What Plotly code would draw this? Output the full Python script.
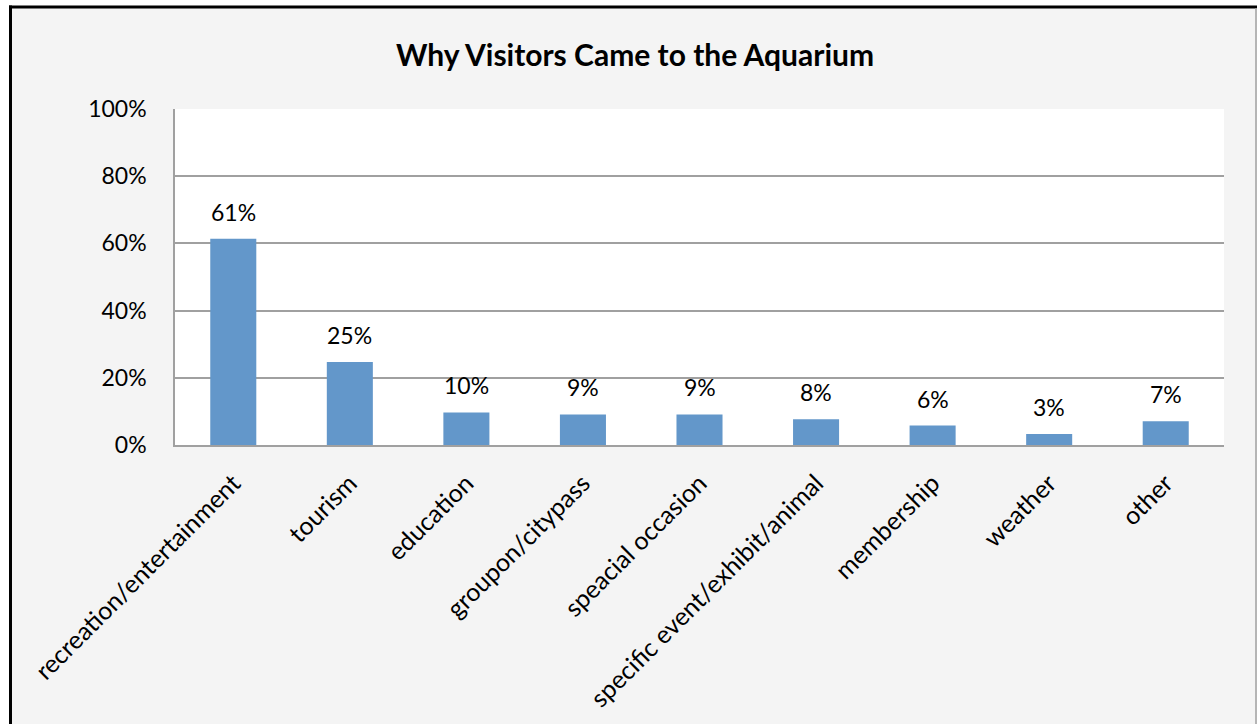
import plotly.graph_objects as go

categories = ["recreation/entertainment", "tourism", "education", "groupon/citypass",
              "speacial occasion", "specific event/exhibit/animal", "membership",
              "weather", "other"]
values = [0.614, 0.247, 0.097, 0.091, 0.091, 0.077, 0.058, 0.033, 0.071]
y_ticks = [0, 0.2, 0.4, 0.6, 0.8, 1.0]
y_tick_labels = ["0%", "20%", "40%", "60%", "80%", "100%"]
title_text = "Why Visitors Came to the Aquarium"

W, H = 1257, 724
L, R, T, B = 175, 1224, 109, 445
FONT = "Lato, 'Open Sans', sans-serif"

def px(x):
    return (x - L) / (R - L)

def py(y):
    return (B - y) / (B - T)

fig = go.Figure(go.Bar(
    x=categories, y=values,
    marker=dict(color="#6397CA", line=dict(width=0)),
    cliponaxis=False,
))

for c, v in zip(categories, values):
    fig.add_annotation(x=c, y=v, text=f"{v:.0%}", showarrow=False,
                       yanchor="middle", yshift=27,
                       font=dict(size=23, color="black", family=FONT))

shapes = [
    dict(type="rect", xref="paper", yref="paper", x0=px(-5), x1=px(9), y0=py(730), y1=py(-5),
         fillcolor="white", line=dict(width=0)),
    dict(type="rect", xref="paper", yref="paper", x0=px(-5), x1=px(1262), y0=py(6), y1=py(-5),
         fillcolor="white", line=dict(width=0)),
    dict(type="line", xref="paper", yref="paper", x0=px(9), x1=px(1262), y0=py(7), y1=py(7),
         line=dict(color="black", width=3)),
    dict(type="line", xref="paper", yref="paper", x0=px(10.5), x1=px(10.5), y0=py(5.5), y1=py(730),
         line=dict(color="black", width=3)),
    dict(type="line", xref="paper", yref="paper", x0=px(1256), x1=px(1256), y0=py(8), y1=py(730),
         line=dict(color="#a0a0a0", width=1.5)),
]

fig.update_layout(
    width=W, height=H,
    margin=dict(l=L, r=W - R, t=T, b=H - B, autoexpand=False),
    paper_bgcolor="#f4f4f4", plot_bgcolor="white",
    title=dict(text="<b>" + title_text + "</b>", x=635 / W, xref="container", xanchor="center",
               y=1 - 55 / H, yref="container", yanchor="middle",
               font=dict(size=30, color="black", family=FONT)),
    bargap=0.605,
    showlegend=False,
    shapes=shapes,
    font=dict(family=FONT, size=24, color="black"),
)
fig.update_yaxes(range=[0, 1], tickvals=y_ticks, ticktext=y_tick_labels,
                 showgrid=True, gridcolor="#a0a0a0", gridwidth=1.5,
                 showline=True, linecolor="#a0a0a0", linewidth=1.5,
                 zeroline=False, ticks="", ticklabelstandoff=22,
                 tickfont=dict(size=23, family=FONT, color="black"))
fig.update_xaxes(showline=True, linecolor="#a0a0a0", linewidth=1.5,
                 tickangle=-45, ticks="", showgrid=False, ticklabelstandoff=12,
                 tickfont=dict(size=25, family=FONT, color="black"))

fig.write_html("out.html", config={"displayModeBar": False},
               post_script="document.body.style.margin='0';document.body.style.overflow='hidden';")
